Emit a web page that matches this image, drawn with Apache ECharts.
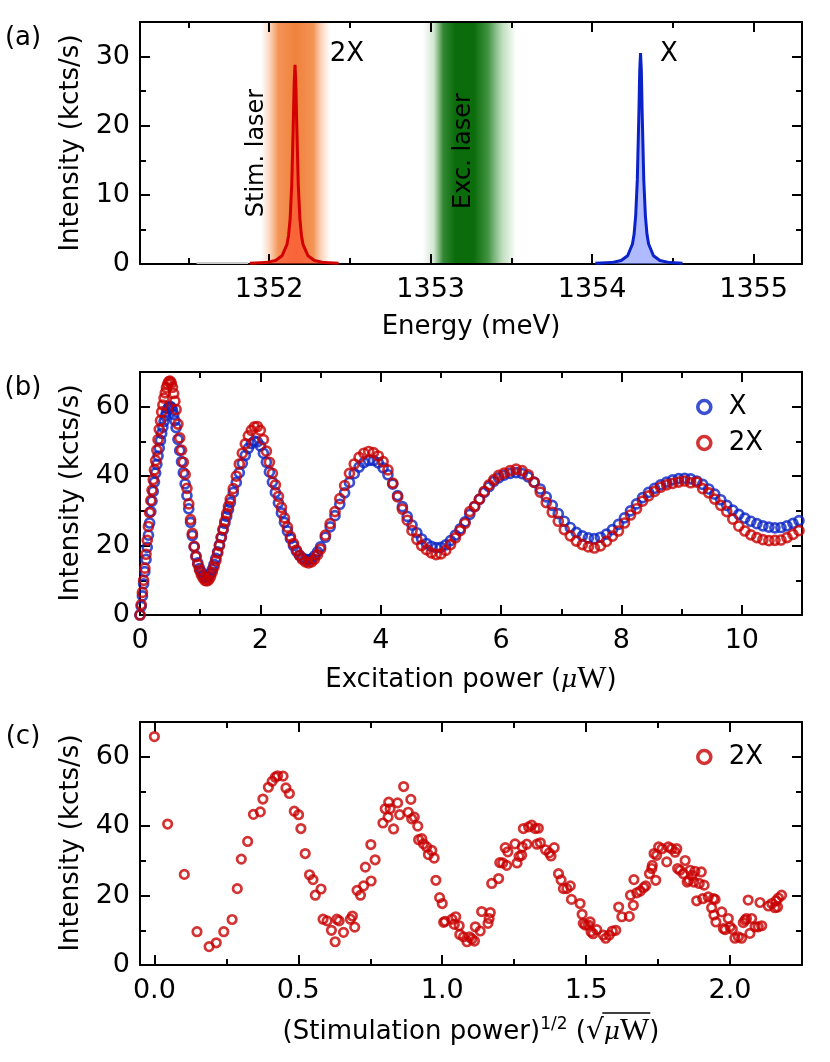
<!DOCTYPE html>
<html><head><meta charset="utf-8">
<script src="https://cdn.jsdelivr.net/npm/echarts@6/dist/echarts.min.js"></script>
<style>html,body{margin:0;padding:0;background:#fff}#c{width:830px;height:1062px}</style>
</head><body><div id="c"></div><script>
// ---------- Panel (a): spectra ----------
const energy2X = [1351.88,1351.98,1352.04,1352.08,1352.11,1352.12,1352.13,1352.14,1352.15,1352.155,1352.16,1352.165,1352.17,1352.18,1352.19,1352.20,1352.21,1352.24,1352.28,1352.34,1352.43];
const spec2X   = [0.1,0.2,0.5,1.2,2.8,4.1,6.6,11.6,21,26.3,28.8,26.3,21,11.6,6.6,4.1,2.8,1.2,0.5,0.2,0.1];
const energyX  = [1354.02,1354.12,1354.18,1354.22,1354.25,1354.26,1354.27,1354.28,1354.29,1354.295,1354.30,1354.305,1354.31,1354.32,1354.33,1354.34,1354.35,1354.38,1354.42,1354.48,1354.56];
const specX    = [0.1,0.2,0.5,1.2,2.9,4.3,7,12.2,22,28,30.5,28,22,12.2,7,4.3,2.9,1.2,0.5,0.2,0.1];
const energyBg = [1351.55,1351.87];
const specBg   = [0.15,0.15];
const stimBand = [1351.95,1352.38];
const excBand  = [1352.95,1353.53];
const energyTicks = [1352,1353,1354,1355];
const energyMinor = [1351.5,1352.5,1353.5,1354.5];
const intensityTicksA = [0,10,20,30];
const intensityMinorA = [5,15,25,35];

// ---------- Panel (b): Rabi vs excitation power ----------
const power = [0,0.02,0.04,0.06,0.08,0.10,0.12,0.14,0.16,0.18,0.20,0.22,0.24,0.26,0.28,0.30,0.32,0.34,0.36,0.38,0.40,0.42,0.44,0.46,0.48,0.50,0.52,0.54,0.56,0.58,0.60,
 0.63,0.66,0.69,0.72,0.75,0.78,0.81,0.84,0.87,0.90,0.93,0.96,0.99,1.02,1.05,1.08,1.11,1.14,1.17,1.20,1.23,1.26,1.29,1.32,1.35,1.38,1.41,1.44,1.47,1.50,
 1.55,1.60,1.65,1.70,1.75,1.80,1.85,1.90,1.95,2.00,2.05,2.10,2.15,2.20,2.25,2.30,2.35,2.40,2.45,2.50,2.55,2.60,2.65,2.70,2.75,2.80,2.85,2.90,2.95,3.00,
 3.08,3.16,3.24,3.32,3.40,3.48,3.56,3.64,3.72,3.80,3.88,3.96,4.04,4.12,4.20,4.28,4.36,4.44,4.52,4.60,4.68,4.76,4.84,4.92,5.00,5.08,5.16,5.24,5.32,5.40,5.48,5.56,5.64,5.72,5.80,5.88,5.96,
 6.05,6.15,6.25,6.35,6.45,6.55,6.65,6.75,6.85,6.95,7.05,7.15,7.25,7.35,7.45,7.55,7.65,7.75,7.85,7.95,8.05,8.15,8.25,8.35,8.45,8.55,8.65,8.75,8.85,8.95,
 9.05,9.15,9.25,9.35,9.45,9.55,9.65,9.75,9.85,9.95,10.05,10.15,10.25,10.35,10.45,10.55,10.65,10.75,10.85,10.95];
const intensityX = [0,2.5,5.5,9,12.5,16,19.5,23,26.5,29.8,32.8,35.6,38.3,40.9,43.4,45.8,48.1,50.3,52.3,54.1,55.8,57.3,58.5,59.4,59.9,60.1,59.8,59,57.7,56,54,
 50.6,47.4,44.2,41,37.8,34.4,30.6,26.7,22.9,19.6,17,15,13.4,12.3,11.5,11,10.8,11.1,11.9,13.1,14.6,16.3,18.2,20.2,22.3,24.4,26.4,28.4,30.4,32.4,
 35.3,38.2,41,43.7,46,48,49.4,50.1,49.9,48.7,46.6,44,41.2,38.3,35.3,32.3,29.4,26.7,24.2,22,20,18.4,17.2,16.4,16,15.9,16.2,17,18.2,19.6,
 22.4,25.4,28.6,31.9,35.2,38.2,40.7,42.6,43.9,44.5,44.5,43.8,42.4,40.4,37.7,34.4,31.2,28.4,25.9,23.7,21.9,20.6,19.8,19.4,19.5,20.2,21.4,23,24.8,26.8,29,31.2,33.3,35.3,37,38.5,39.5,
 40.3,40.8,41,40.7,39.8,38.3,36.3,34,31.6,29.2,27,25.2,23.8,22.8,22.2,22,22.4,23.3,24.6,26.1,28,30,32,33.8,35.3,36.5,37.5,38.3,38.9,39.3,
 39.4,39.2,38.6,37.6,36.3,34.8,33.2,31.6,30.2,29,27.9,27,26.3,25.7,25.3,25.1,25.2,25.7,26.4,27.2];
const intensity2X = [0,3,6.5,10,13.5,17.5,21.5,25.5,29.5,33,36,39,41.8,44.5,47.5,50.5,53.5,56,58.5,60.5,62.5,64,65.5,66.5,67.2,67.4,66.8,65.6,63.8,61.6,59.2,
 55,51,47.5,44,40.5,36.5,32,27.5,23.5,19.8,16.8,14.6,12.9,11.6,10.6,10,9.8,10.1,11,12.3,13.9,15.7,17.8,20,22.4,24.8,27,29.2,31.3,33.4,
 36.4,40,43.5,46.6,49.3,51.6,53.2,54.2,54.3,53.2,50.5,47.2,44,40.8,37.5,34.2,31,28,25.3,22.6,20.6,18.7,17.2,16,15.3,15,15.3,16.1,17.4,19,
 23,26.3,29.8,33.5,37.3,40.8,43.5,45.4,46.6,47.1,46.8,45.8,44.2,41.8,38,34,30.5,27.3,24.3,21.8,20,18.8,17.9,17.4,17.6,18.6,20.3,22.2,24.3,26.4,29.8,31.3,33.4,35.6,37.5,39,40.2,
 40.9,41.6,42,41.6,40.4,38.2,35.4,32.4,29.6,27,24.6,22.8,21.3,20.3,19.6,19.3,19.9,21.2,22.7,24.2,26.5,28.8,30.6,32.8,34.3,35.6,36.8,37.5,37.9,38.3,
 38.6,38.1,38.3,36.4,35.2,33.4,31.6,29.8,27.6,25.6,24.2,23.1,22.3,21.7,21.4,21.5,21.6,22.3,23.2,24.3];
const powerTicks = [0,2,4,6,8,10];
const powerMinor = [1,3,5,7,9];
const intensityTicks = [0,20,40,60];
const intensityMinor = [10,30,50,70];

// ---------- Panel (c): 2X vs sqrt(stimulation power) ----------
const sqrtStim = [0.000,0.046,0.104,0.148,0.190,0.215,0.241,0.270,0.288,0.302,0.324,0.344,0.368,0.377,0.396,0.409,0.420,0.428,0.447,0.457,0.469,0.486,0.501,0.509,0.524,0.539,0.551,0.559,0.579,0.586,
 0.600,0.615,0.628,0.634,0.642,0.657,0.681,0.688,0.696,0.704,0.716,0.727,0.733,0.752,0.753,0.767,0.794,0.802,0.812,0.814,0.819,0.831,0.845,0.852,0.866,0.882,0.891,0.894,0.903,0.915,
 0.918,0.929,0.935,0.946,0.952,0.964,0.972,0.978,0.991,1.000,1.005,1.010,1.034,1.042,1.047,1.059,1.061,1.074,1.086,1.095,1.103,1.112,1.115,1.132,1.137,1.159,1.163,1.167,1.172,1.196,
 1.200,1.210,1.219,1.224,1.228,1.253,1.260,1.267,1.276,1.278,1.282,1.294,1.300,1.311,1.323,1.329,1.334,1.341,1.359,1.372,1.378,1.389,1.404,1.413,1.421,1.433,1.445,1.449,1.479,1.486,
 1.490,1.497,1.508,1.514,1.517,1.524,1.537,1.560,1.568,1.580,1.591,1.603,1.613,1.624,1.650,1.654,1.664,1.666,1.676,1.688,1.700,1.707,1.720,1.728,1.730,1.736,1.742,1.745,1.752,1.764,
 1.780,1.786,1.797,1.809,1.815,1.818,1.826,1.838,1.844,1.851,1.857,1.861,1.868,1.874,1.878,1.884,1.893,1.900,1.905,1.910,1.924,1.936,1.942,1.944,1.948,1.951,1.971,1.977,1.983,1.994,
 2.000,2.008,2.017,2.029,2.040,2.046,2.052,2.057,2.063,2.069,2.075,2.087,2.098,2.104,2.110,2.133,2.145,2.156,2.160,2.165,2.168,2.179];
const intensityStim = [65.8,40.6,26.1,9.6,5.3,6.4,9.6,13.1,22.0,30.5,35.6,43.4,44.1,47.8,51.2,52.9,54.1,54.5,54.4,51.0,49.4,44.3,43.3,39.3,32.1,26.0,24.6,20.1,21.9,13.2,
 12.7,10.0,6.7,13.2,12.7,9.4,13.2,14.1,10.9,21.5,20.1,22.8,28.2,34.7,24.2,30.3,40.9,45.0,42.6,46.9,45.0,39.2,46.7,43.3,51.4,44.0,47.7,42.1,42.6,40.0,
 36.1,36.4,34.9,34.0,31.8,33.0,30.8,24.4,19.4,17.7,12.3,12.6,13.2,11.7,13.9,11.3,8.8,8.1,6.7,8.1,7.5,6.9,11.0,9.8,15.4,12.0,13.4,15.1,23.5,24.9,
 29.5,29.4,33.8,28.7,32.6,34.9,29.4,31.3,31.6,34.0,39.3,34.8,39.8,40.3,39.3,34.8,39.4,35.2,33.2,32.3,31.4,33.8,26.3,24.5,22.0,22.0,22.8,18.9,17.7,14.6,
 12.0,11.5,11.5,12.4,9.6,9.0,10.2,8.6,7.7,8.6,9.8,10.0,16.7,13.9,14.0,20.1,17.2,24.6,20.8,21.3,22.3,22.8,26.3,27.8,28.7,32.1,24.4,31.6,34.0,33.5,
 29.7,34.0,33.5,32.5,33.5,27.8,27.3,26.3,30.1,23.9,24.4,27.3,25.8,23.9,27.0,18.5,23.5,26.8,19.1,23.0,19.6,16.5,19.1,14.4,18.9,12.4,15.3,10.5,10.2,13.4,
 11.0,10.3,7.7,8.1,7.7,12.2,12.9,13.4,18.7,9.1,13.4,11.0,11.0,18.0,11.3,17.0,17.7,16.5,18.5,16.7,19.3,20.1];
const sqrtTicks = [0,0.5,1,1.5,2];
const sqrtMinor = [0.25,0.75,1.25,1.75];

// ---------- styling ----------
const FONT = 'DejaVu Sans';
const TICK_FS = 27, TITLE_FS = 26;
const RED = '#c80000', BLUE = '#0a24c4';
const pairs = (xs, ys) => xs.map((x, i) => [x, ys[i]]);

function axes(dim, g, min, max, major, minor, fmt) {
  const isX = dim === 'x';
  const pos = isX ? ['bottom', 'top'] : ['left', 'right'];
  const out = [];
  pos.forEach((p, i) => {
    [major, minor].forEach((vals, j) => {
      out.push({
        type: 'value', gridIndex: g, position: p, min: min, max: max,
        axisLine: {show: j === 0, onZero: false, lineStyle: {color: '#000', width: 2}},
        axisTick: {show: true, inside: true, length: j === 0 ? 10 : 6, customValues: vals,
          lineStyle: {color: '#000', width: 2}},
        axisLabel: {show: i === 0 && j === 0, customValues: vals, margin: isX ? 12 : 10,
          fontFamily: FONT, fontSize: TICK_FS, color: '#000', formatter: fmt || (v => String(v))},
        splitLine: {show: false}, minorTick: {show: false}
      });
    });
  });
  return out;
}

const xAxes = [].concat(
  axes('x', 0, 1351.2, 1355.3, energyTicks, energyMinor),
  axes('x', 1, 0, 11, powerTicks, powerMinor),
  axes('x', 2, -0.05, 2.25, sqrtTicks, sqrtMinor, v => v.toFixed(1))
);
const yAxes = [].concat(
  axes('y', 0, 0, 35, intensityTicksA, intensityMinorA),
  axes('y', 1, 0, 70, intensityTicks, intensityMinor),
  axes('y', 2, 0, 70, intensityTicks, intensityMinor)
);

const stimGrad = {type: 'linear', x: 0, y: 0, x2: 1, y2: 0, colorStops: [
  {offset: 0, color: 'rgba(246,150,90,0)'}, {offset: 0.1, color: 'rgba(246,150,90,0.3)'},
  {offset: 0.25, color: 'rgba(242,138,70,0.92)'}, {offset: 0.5, color: 'rgba(240,130,60,1)'},
  {offset: 0.75, color: 'rgba(242,138,70,0.92)'}, {offset: 0.88, color: 'rgba(246,150,90,0.35)'},
  {offset: 1, color: 'rgba(246,150,90,0)'}]};
const excGrad = {type: 'linear', x: 0, y: 0, x2: 1, y2: 0, colorStops: [
  {offset: 0, color: 'rgba(30,130,30,0)'}, {offset: 0.12, color: 'rgba(30,130,30,0.2)'},
  {offset: 0.22, color: 'rgba(15,115,15,0.85)'}, {offset: 0.35, color: 'rgba(10,108,10,1)'},
  {offset: 0.55, color: 'rgba(10,108,10,1)'}, {offset: 0.7, color: 'rgba(20,120,20,0.8)'},
  {offset: 0.85, color: 'rgba(40,140,40,0.3)'}, {offset: 1, color: 'rgba(40,140,40,0)'}]};

const scatterStyle = c => ({color: 'rgba(0,0,0,0)', borderColor: c, borderWidth: 2.7});

const tstyle = (text, size) => ({text: text, fontFamily: FONT, fontSize: size || TITLE_FS, fill: '#000',
  align: 'center', verticalAlign: 'middle'});
const vtext = (text, x, y, size) => ({type: 'text', x: x, y: y, rotation: Math.PI / 2, style: tstyle(text, size), z: 100});
const htext = (text, x, y, size) => ({type: 'text', x: x, y: y, style: tstyle(text, size), z: 100});

const richBase = {
  t: {fontFamily: FONT, fontSize: TITLE_FS, fill: '#000'},
  sup: {fontFamily: FONT, fontSize: 17, fill: '#000', verticalAlign: 'top'},
  sq: {fontFamily: FONT, fontSize: 28, fill: '#000'},
  mu: {fontFamily: 'DejaVu Serif', fontStyle: 'italic', fontSize: 25, fill: '#000'},
  w: {fontFamily: 'Liberation Serif', fontSize: 31, fill: '#000'}
};

const chart = echarts.init(document.getElementById('c'), null, {renderer: 'canvas'});
const legendItem = (name, c) => ({name: name, icon: 'circle',
  itemStyle: {color: 'rgba(0,0,0,0)', borderColor: c, borderWidth: 3.6}});
const option = {
  animation: false,
  backgroundColor: '#fff',
  grid: [
    {left: 140, top: 22, width: 662, height: 242, containLabel: false, outerBoundsMode: 'none'},
    {left: 140, top: 372, width: 662, height: 243, containLabel: false, outerBoundsMode: 'none'},
    {left: 140, top: 722, width: 662, height: 243, containLabel: false, outerBoundsMode: 'none'}
  ],
  xAxis: xAxes,
  yAxis: yAxes,
  legend: [
    {data: [legendItem('X', BLUE), legendItem('2X', RED)],
     orient: 'vertical', left: 696, top: 394, padding: 0, itemGap: 10, itemWidth: 13, itemHeight: 13,
     selectedMode: false, textStyle: {fontFamily: FONT, fontSize: TITLE_FS, color: '#000', padding: [0, 0, 0, 13]}},
    {data: [legendItem('2X', RED)],
     orient: 'vertical', left: 696, top: 744, padding: 0, itemWidth: 13, itemHeight: 13,
     selectedMode: false, textStyle: {fontFamily: FONT, fontSize: TITLE_FS, color: '#000', padding: [0, 0, 0, 13]}}
  ],
  series: [
    {type: 'line', xAxisIndex: 0, yAxisIndex: 0, data: pairs(energyBg, specBg), symbol: 'none',
     lineStyle: {color: '#c8c8c8', width: 2}, z: 1,
     markArea: {silent: true, z: 0, data: [
       [{xAxis: stimBand[0], itemStyle: {color: stimGrad}}, {xAxis: stimBand[1]}],
       [{xAxis: excBand[0], itemStyle: {color: excGrad}}, {xAxis: excBand[1]}]
     ]}},
    {name: 'spec2X', type: 'line', xAxisIndex: 0, yAxisIndex: 0, data: pairs(energy2X, spec2X), symbol: 'none',
     lineStyle: {color: '#d40000', width: 3}, areaStyle: {color: 'rgba(255,70,50,0.7)'}, z: 5},
    {name: 'specX', type: 'line', xAxisIndex: 0, yAxisIndex: 0, data: pairs(energyX, specX), symbol: 'none',
     lineStyle: {color: '#0a22c8', width: 3}, areaStyle: {color: 'rgba(120,140,255,0.85)'}, z: 5},
    {name: 'X', type: 'scatter', xAxisIndex: 4, yAxisIndex: 4, data: pairs(power, intensityX),
     symbol: 'circle', symbolSize: 9, itemStyle: scatterStyle(BLUE), z: 3},
    {name: '2X', type: 'scatter', xAxisIndex: 4, yAxisIndex: 4, data: pairs(power, intensity2X),
     symbol: 'circle', symbolSize: 9, itemStyle: scatterStyle(RED), z: 4},
    {name: '2X', type: 'scatter', xAxisIndex: 8, yAxisIndex: 8, data: pairs(sqrtStim, intensityStim),
     symbol: 'circle', symbolSize: 8.5, itemStyle: scatterStyle(RED), z: 4}
  ],
  graphic: [
    htext('(a)', 23, 38, 26), htext('(b)', 23, 388, 26), htext('(c)', 23, 737, 26),
    vtext('Intensity (kcts/s)', 71, 143), vtext('Intensity (kcts/s)', 71, 493), vtext('Intensity (kcts/s)', 71, 843),
    htext('Energy (meV)', 471, 327),
    htext('2X', 347, 54), htext('X', 669, 54),
    vtext('Stim. laser', 257, 153, 24), vtext('Exc. laser', 464, 151, 24),
    {type: 'text', x: 471, y: 680, z: 100, style: {text: '{t|Excitation power (}{mu|μ}{w|W}{t|)}', rich: richBase,
      align: 'center', verticalAlign: 'middle'}},
    {type: 'text', x: 471, y: 1032, z: 100, style: {text: '{t|(Stimulation power)}{sup|1/2}{t| (}{sq|√}{mu|μ}{w|W}{t|)}', rich: richBase,
      align: 'center', verticalAlign: 'middle'}}
  ]
};
chart.setOption(option);

// overline of the square root, placed from measured text widths
(function () {
  const ctx = document.createElement('canvas').getContext('2d');
  const w = (txt, font) => { ctx.font = font; return ctx.measureText(txt).width; };
  const parts = [
    w('(Stimulation power)', TITLE_FS + 'px "DejaVu Sans"'), w('1/2', '17px "DejaVu Sans"'), w(' (', TITLE_FS + 'px "DejaVu Sans"'),
    w('√', '28px "DejaVu Sans"'), w('μ', 'italic 25px "DejaVu Serif"'), w('W', '31px "Liberation Serif"'), w(')', TITLE_FS + 'px "DejaVu Sans"')
  ];
  const total = parts.reduce((a, b) => a + b, 0);
  const x0 = 471 - total / 2;
  const start = x0 + parts[0] + parts[1] + parts[2] + parts[3] - 1.5;
  const end = start + 1.5 + parts[4] + parts[5] + 1;
  chart.setOption({graphic: [{type: 'line', id: 'overline', z: 100,
    shape: {x1: start, y1: 1013, x2: end, y2: 1013}, style: {stroke: '#000', lineWidth: 1.6}}]});
})();
</script></body></html>
